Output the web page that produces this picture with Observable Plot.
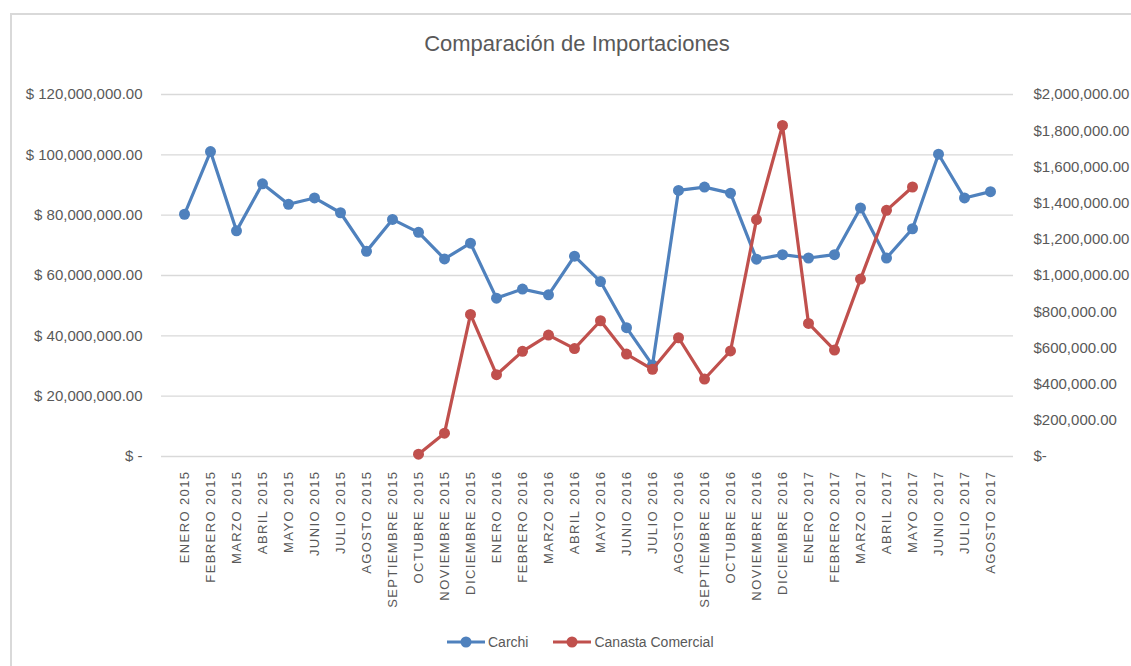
<!DOCTYPE html>
<html>
<head>
<meta charset="utf-8">
<script src="https://cdn.jsdelivr.net/npm/d3@7"></script>
<script src="https://cdn.jsdelivr.net/npm/@observablehq/plot@0.6"></script>
<style>
  html, body { margin: 0; padding: 0; background: #fff; }
  body { width: 1131px; height: 666px; position: relative; overflow: hidden;
         font-family: "Liberation Sans", sans-serif; color: #595959; }
  #frame { position: absolute; left: 10px; top: 13px; width: 1200px; height: 700px;
           border: 2px solid #d9d9d9; box-sizing: border-box; }
  #chart { position: absolute; left: 0; top: 0; }
  #title { position: absolute; top: 31px; left: 0; width: 1154px; text-align: center;
           font-size: 22px; color: #595959; }
  #legend { position: absolute; top: 634px; left: 446px; display: flex; align-items: center;
            font-size: 14px; color: #595959; }
  #legend .item { display: flex; align-items: center; margin-right: 24px; }
  #legend svg { margin-right: 2px; }
  svg [aria-label="x-axis tick label"] text { letter-spacing: 1.4px; }
</style>
</head>
<body>
<div id="frame"></div>
<div id="chart"></div>
<div id="title">Comparación de Importaciones</div>
<div id="legend"></div>
<script>
const months = [
  "ENERO 2015","FEBRERO 2015","MARZO 2015","ABRIL 2015","MAYO 2015","JUNIO 2015","JULIO 2015","AGOSTO 2015",
  "SEPTIEMBRE 2015","OCTUBRE 2015","NOVIEMBRE 2015","DICIEMBRE 2015",
  "ENERO 2016","FEBRERO 2016","MARZO 2016","ABRIL 2016","MAYO 2016","JUNIO 2016","JULIO 2016","AGOSTO 2016",
  "SEPTIEMBRE 2016","OCTUBRE 2016","NOVIEMBRE 2016","DICIEMBRE 2016",
  "ENERO 2017","FEBRERO 2017","MARZO 2017","ABRIL 2017","MAYO 2017","JUNIO 2017","JULIO 2017","AGOSTO 2017"
];
// Carchi (left axis)
const carchi = [
  80300000, 101100000, 74800000, 90400000, 83600000, 85700000, 80800000, 68000000,
  78600000, 74300000, 65500000, 70700000,
  52500000, 55500000, 53600000, 66400000, 58000000, 42700000, 30300000, 88200000,
  89300000, 87300000, 65400000, 66900000,
  65800000, 66900000, 82400000, 65800000, 75500000, 100200000, 85700000, 87800000
];
// Canasta Comercial (right axis)
const canasta = [
  null, null, null, null, null, null, null, null,
  null, 13000, 129000, 785000,
  452000, 581000, 671000, 596000, 750000, 566000, 482000, 656000,
  428000, 583000, 1309000, 1829000,
  735000, 588000, 980000, 1360000, 1489000, null, null, null
];
const seriesNames = ["Carchi", "Canasta Comercial"];
const colors = ["#4f81bd", "#c0504d"];
const leftTicks = [0, 20000000, 40000000, 60000000, 80000000, 100000000, 120000000];
const rightTicks = [0, 200000, 400000, 600000, 800000, 1000000, 1200000, 1400000, 1600000, 1800000, 2000000];

const leftMax = 120000000, rightMax = 2000000;
const ratio = leftMax / rightMax;

const carchiData = months.map((m, i) => ({ m, y: carchi[i] }));
const canastaData = months.map((m, i) => ({ m, v: canasta[i] }))
  .filter(d => d.v != null).map(d => ({ m: d.m, y: d.v * ratio }));

const fmt = d3.format(",.2f");

const chart = Plot.plot({
  width: 1131,
  height: 666,
  marginTop: 94,
  marginBottom: 210,
  marginLeft: 161,
  marginRight: 118,
  style: { fontFamily: '"Liberation Sans", sans-serif', color: "#595959", background: "transparent" },
  x: { type: "point", domain: months, padding: 0.5 },
  y: { domain: [0, leftMax] },
  marks: [
    Plot.gridY(leftTicks, { stroke: "#d9d9d9", strokeOpacity: 1, strokeWidth: 1.3 }),
    Plot.axisY({ anchor: "left", ticks: leftTicks, tickSize: 0, tickPadding: 19, fontSize: 15,
      tickFormat: d => d === 0 ? "$ -" : "$ " + fmt(d), label: null }),
    Plot.axisY({ anchor: "right", ticks: rightTicks.map(v => v * ratio), tickSize: 0, tickPadding: 20, fontSize: 15,
      tickFormat: d => d === 0 ? "$-" : "$" + fmt(Math.round(d / ratio)), label: null }),
    Plot.axisX({ tickRotate: -90, tickSize: 0, tickPadding: 14, fontSize: 13, label: null }),
    Plot.line(carchiData, { x: "m", y: "y", stroke: colors[0], strokeWidth: 3.2 }),
    Plot.dot(carchiData, { x: "m", y: "y", fill: colors[0], r: 5.5 }),
    Plot.line(canastaData, { x: "m", y: "y", stroke: colors[1], strokeWidth: 3.2 }),
    Plot.dot(canastaData, { x: "m", y: "y", fill: colors[1], r: 5.5 })
  ]
});
document.getElementById("chart").appendChild(chart);

const legend = document.getElementById("legend");
seriesNames.forEach((name, i) => {
  const item = document.createElement("div");
  item.className = "item";
  item.innerHTML = `<svg width="40" height="14"><line x1="1" y1="7" x2="39" y2="7" stroke="${colors[i]}" stroke-width="3.2"/><circle cx="20" cy="7" r="5.5" fill="${colors[i]}"/></svg><span>${name}</span>`;
  legend.appendChild(item);
});
</script>
</body>
</html>
